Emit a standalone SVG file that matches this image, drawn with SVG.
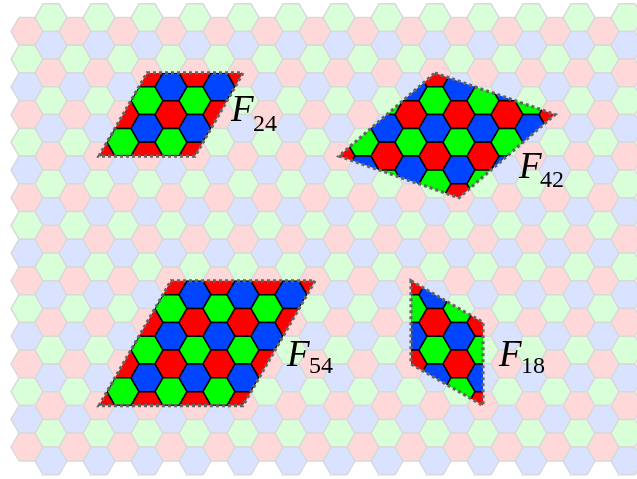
<svg xmlns="http://www.w3.org/2000/svg" width="637" height="479" viewBox="0 0 637 479">
<style>
.p{fill:#ff0000}.g{fill:#00ff00}.b{fill:#0044ff}
.hx{stroke:#000;stroke-width:1.5;stroke-linejoin:round}
.dash{fill:none;stroke:#646464;stroke-width:3.2;stroke-dasharray:3 3}
.F{font-family:"Liberation Serif","Times New Roman",serif;font-style:italic;font-size:37px;fill:#000}
.s{font-family:"Liberation Serif","Times New Roman",serif;font-size:24px;fill:#000}
</style>
<defs>
<polygon id="h" points="-16,0 -8,-13.856 8,-13.856 16,0 8,13.856 -8,13.856"/>
<g id="ce">
<use href="#h" y="31.40" class="p"/><use href="#h" y="59.11" class="g"/><use href="#h" y="86.83" class="b"/>
<use href="#h" y="114.54" class="p"/><use href="#h" y="142.25" class="g"/><use href="#h" y="169.96" class="b"/>
<use href="#h" y="197.68" class="p"/><use href="#h" y="225.39" class="g"/><use href="#h" y="253.10" class="b"/>
<use href="#h" y="280.82" class="p"/><use href="#h" y="308.53" class="g"/><use href="#h" y="336.24" class="b"/>
<use href="#h" y="363.95" class="p"/><use href="#h" y="391.67" class="g"/><use href="#h" y="419.38" class="b"/>
<use href="#h" y="447.09" class="p"/>
</g>
<g id="co">
<use href="#h" y="17.54" class="g"/><use href="#h" y="45.26" class="b"/><use href="#h" y="72.97" class="p"/>
<use href="#h" y="100.68" class="g"/><use href="#h" y="128.40" class="b"/><use href="#h" y="156.11" class="p"/>
<use href="#h" y="183.82" class="g"/><use href="#h" y="211.53" class="b"/><use href="#h" y="239.25" class="p"/>
<use href="#h" y="266.96" class="g"/><use href="#h" y="294.67" class="b"/><use href="#h" y="322.39" class="p"/>
<use href="#h" y="350.10" class="g"/><use href="#h" y="377.81" class="b"/><use href="#h" y="405.53" class="p"/>
<use href="#h" y="433.24" class="g"/><use href="#h" y="460.95" class="b"/>
</g>
<g id="grid" class="hx">
<use href="#ce" x="27"/><use href="#co" x="51"/><use href="#ce" x="75"/><use href="#co" x="99"/>
<use href="#ce" x="123"/><use href="#co" x="147"/><use href="#ce" x="171"/><use href="#co" x="195"/>
<use href="#ce" x="219"/><use href="#co" x="243"/><use href="#ce" x="267"/><use href="#co" x="291"/>
<use href="#ce" x="315"/><use href="#co" x="339"/><use href="#ce" x="363"/><use href="#co" x="387"/>
<use href="#ce" x="411"/><use href="#co" x="435"/><use href="#ce" x="459"/><use href="#co" x="483"/>
<use href="#ce" x="507"/><use href="#co" x="531"/><use href="#ce" x="555"/><use href="#co" x="579"/>
<use href="#ce" x="603"/><use href="#co" x="627"/>
</g>
<clipPath id="k24"><polygon points="147,72.97 243,72.97 195,156.11 99,156.11"/></clipPath>
<clipPath id="k42"><polygon points="435,72.97 555,114.54 459,197.68 339,156.11"/></clipPath>
<clipPath id="k54"><polygon points="171,280.82 315,280.82 243,405.53 99,405.53"/></clipPath>
<clipPath id="k18"><polygon points="411,280.82 483,322.39 483,405.53 411,363.95"/></clipPath>
</defs>
<rect width="637" height="479" fill="#fff"/>
<g id="background" opacity="0.15"><use href="#grid"/></g>
<g id="F24">
<use href="#grid" clip-path="url(#k24)"/>
<polygon class="dash" points="147,72.97 243,72.97 195,156.11 99,156.11"/>
<text class="F" x="231" y="121">F</text><text class="s" x="253" y="131">24</text>
</g>
<g id="F42">
<use href="#grid" clip-path="url(#k42)"/>
<polygon class="dash" points="435,72.97 555,114.54 459,197.68 339,156.11"/>
<text class="F" x="519" y="178">F</text><text class="s" x="540" y="187">42</text>
</g>
<g id="F54">
<use href="#grid" clip-path="url(#k54)"/>
<polygon class="dash" points="171,280.82 315,280.82 243,405.53 99,405.53"/>
<text class="F" x="287" y="366">F</text><text class="s" x="309" y="373">54</text>
</g>
<g id="F18">
<use href="#grid" clip-path="url(#k18)"/>
<polygon class="dash" points="411,280.82 483,322.39 483,405.53 411,363.95"/>
<text class="F" x="499" y="366">F</text><text class="s" x="521" y="373">18</text>
</g>
</svg>
